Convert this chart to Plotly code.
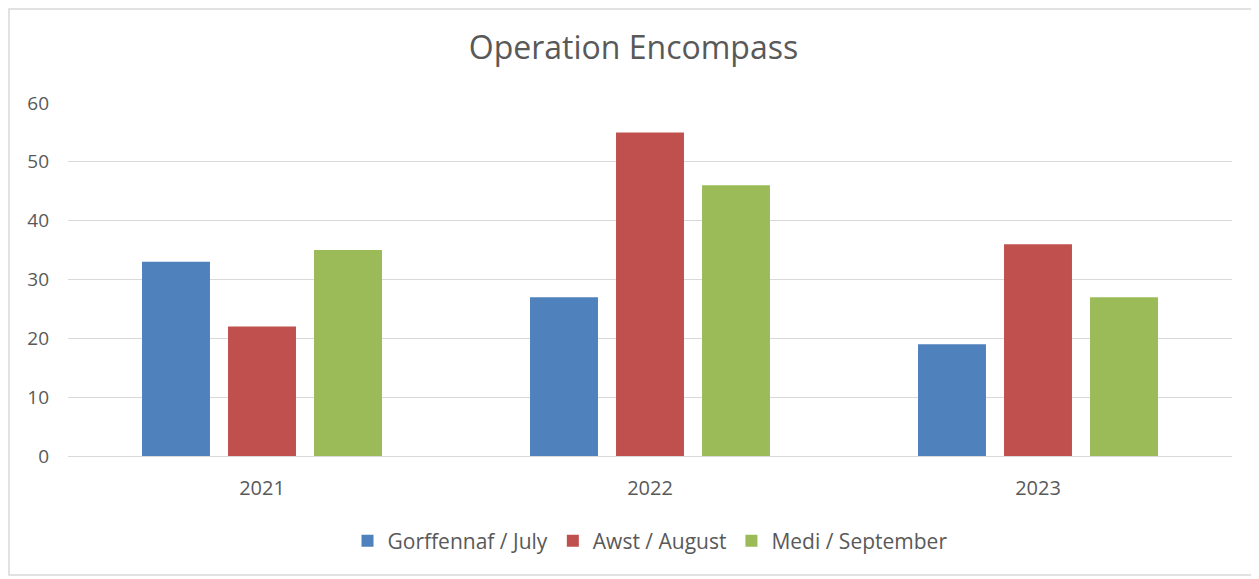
import plotly.graph_objects as go

years = ["2021", "2022", "2023"]
july = [33, 27, 19]
august = [22, 55, 36]
september = [35, 46, 27]
series_names = ["Gorffennaf / July", "Awst / August", "Medi / September"]
colors = ["#4F81BD", "#C0504D", "#9BBB59"]

fig = go.Figure()
for name, vals, c in zip(series_names, [july, august, september], colors):
    fig.add_trace(go.Bar(x=years, y=vals, name=name, marker=dict(color=c, line=dict(width=0))))

font_fam = "Open Sans, Liberation Sans, sans-serif"
W, H = 1251, 571
L, T, R = 60, 95, 27
B = H - T - 353
fig.update_layout(
    width=W, height=H,
    paper_bgcolor="white", plot_bgcolor="white",
    margin=dict(l=L, r=R, t=T, b=B),
    barmode="group", bargap=0.335, bargroupgap=0.21,
    title=dict(text="Operation Encompass", x=0.5, xanchor="center",
               y=1 - 40 / H, yanchor="middle",
               font=dict(family=font_fam, size=32, color="#595959")),
    font=dict(family=font_fam, color="#595959", size=19),
    xaxis=dict(showgrid=False, showline=True, linecolor="#D9D9D9", linewidth=1,
               tickfont=dict(size=20, color="#595959"), ticks="", ticklabelstandoff=14),
    yaxis=dict(range=[0, 60], dtick=10, showgrid=True, gridcolor="#D9D9D9", gridwidth=1,
               zeroline=False, showline=False, tickfont=dict(size=19, color="#595959"),
               ticks="", ticklabelstandoff=18),
    legend=dict(orientation="h", x=0.5, xanchor="center", y=-(533 - 95 - 353) / 353,
                yanchor="middle", font=dict(size=21, color="#595959"),
                itemwidth=30, traceorder="normal"),
)
# outer chart border
fig.add_shape(type="rect", xref="paper", yref="paper",
              x0=-(L - 1) / 1164, x1=1 + (R - 4) / 1164,
              y0=-(B - 4) / 353, y1=1 + (T - 1) / 353,
              line=dict(color="#D9D9D9", width=1.5), layer="below")
fig.write_html("out.html")
